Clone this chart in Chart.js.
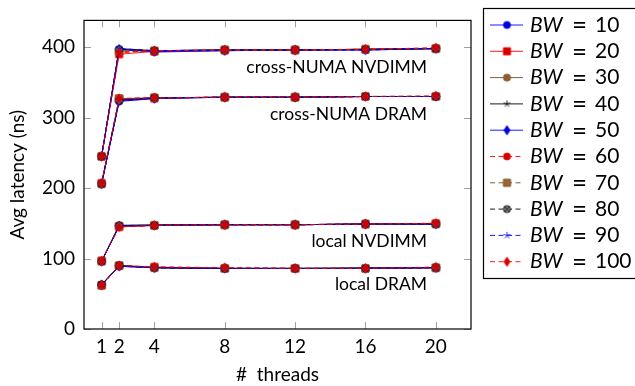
<!DOCTYPE html>
<html>
<head>
<meta charset="utf-8">
<script src="https://cdn.jsdelivr.net/npm/chart.js@4"></script>
<style>
  html, body { margin: 0; padding: 0; background: #fff; }
  #wrap { width: 635px; height: 386px; }
</style>
</head>
<body>
<div id="wrap"><canvas id="latChart" width="635" height="386"></canvas></div>
<script>
// ---------------------------------------------------------
// data
// ---------------------------------------------------------
const threads = [1, 2, 4, 8, 12, 16, 20];
const bwLabels = ['10', '20', '30', '40', '50', '60', '70', '80', '90', '100'];
const yTicks = [0, 100, 200, 300, 400];

// one row per BW series, one value per thread count
const localDram = [
    [63, 89, 87, 86, 86, 86, 87],
    [62, 90, 88, 86, 86, 86, 87],
    [62, 90, 87, 86, 86, 86, 87],
    [63, 90, 87, 86, 86, 87, 87],
    [63, 89, 87, 86, 86, 86, 87],
    [62, 90, 88, 87, 86, 86, 87],
    [62, 90, 87, 86, 86, 86, 87],
    [63, 90, 87, 86, 86, 86, 87],
    [62, 89, 87, 86, 86, 86, 87],
    [62, 90, 88, 87, 86, 86, 88]
];
const localNvdimm = [
    [96, 147, 147, 148, 148, 149, 149],
    [97, 145, 147, 148, 148, 149, 150],
    [96, 146, 147, 148, 148, 149, 149],
    [96, 147, 148, 148, 148, 149, 149],
    [96, 146, 147, 148, 148, 149, 149],
    [97, 145, 147, 148, 148, 149, 150],
    [96, 146, 147, 148, 148, 149, 149],
    [96, 147, 147, 148, 148, 149, 149],
    [96, 146, 147, 148, 148, 149, 149],
    [96, 145, 147, 148, 148, 149, 150]
];
const remoteDram = [
    [206, 323, 327, 329, 329, 330, 330],
    [207, 327, 328, 329, 329, 330, 330],
    [206, 326, 328, 329, 329, 330, 330],
    [206, 325, 328, 329, 329, 330, 330],
    [206, 324, 327, 329, 329, 330, 330],
    [207, 327, 328, 329, 329, 330, 330],
    [206, 327, 328, 329, 329, 330, 330],
    [206, 324, 328, 329, 329, 330, 330],
    [206, 325, 328, 329, 329, 330, 330],
    [207, 327, 328, 329, 329, 330, 331]
];
const remoteNvdimm = [
    [245, 397, 393, 395, 396, 396, 398],
    [245, 390, 394, 396, 396, 397, 398],
    [245, 396, 395, 396, 396, 397, 398],
    [245, 398, 395, 396, 396, 397, 398],
    [245, 397, 394, 395, 396, 396, 398],
    [246, 393, 395, 396, 396, 397, 399],
    [245, 394, 395, 396, 396, 397, 398],
    [245, 397, 395, 396, 396, 397, 398],
    [245, 398, 395, 396, 396, 396, 398],
    [245, 392, 395, 396, 396, 397, 399]
];
const groupNames = ['local DRAM', 'local NVDIMM', 'cross-NUMA DRAM', 'cross-NUMA NVDIMM'];
const groups = [localDram, localNvdimm, remoteDram, remoteNvdimm];

// ---------------------------------------------------------
// styles (pgfplots "color" cycle list)
// ---------------------------------------------------------
const FONT = 'Lato, "DejaVu Sans", sans-serif';
const STYLES = [
    { line: '#0000ff', fill: '#0000cc', mark: 'circle',  dash: [] },
    { line: '#ff0000', fill: '#cc0000', mark: 'square',  dash: [] },
    { line: '#734d26', fill: '#996633', mark: 'otimes',  dash: [] },
    { line: '#000000', fill: '#000000', mark: 'star',    dash: [] },
    { line: '#0000ff', fill: '#0000cc', mark: 'diamond', dash: [] },
    { line: '#ff0000', fill: '#cc0000', mark: 'circle',  dash: [5, 3.5] },
    { line: '#734d26', fill: '#996633', mark: 'square',  dash: [5, 3.5] },
    { line: '#000000', fill: '#808080', mark: 'otimes',  dash: [5, 3.5] },
    { line: '#0000ff', fill: '#0000ff', mark: 'star',    dash: [5, 3.5] },
    { line: '#ff0000', fill: '#cc0000', mark: 'diamond', dash: [5, 3.5] }
];

function makeMark(st) {
    const c = document.createElement('canvas');
    c.width = 13; c.height = 13;
    const g = c.getContext('2d');
    const cx = 6.5, cy = 6.5, r = 3.6;
    g.strokeStyle = st.line;
    g.fillStyle = st.fill;
    g.lineWidth = 0.8;
    g.beginPath();
    if (st.mark === 'circle') {
        g.arc(cx, cy, r, 0, Math.PI * 2);
        g.fill(); g.stroke();
    } else if (st.mark === 'square') {
        g.rect(cx - r, cy - r, 2 * r, 2 * r);
        g.fill(); g.stroke();
    } else if (st.mark === 'diamond') {
        g.moveTo(cx, cy - r * 1.3);
        g.lineTo(cx + r * 0.85, cy);
        g.lineTo(cx, cy + r * 1.3);
        g.lineTo(cx - r * 0.85, cy);
        g.closePath();
        g.fill(); g.stroke();
    } else if (st.mark === 'otimes') {
        g.arc(cx, cy, r, 0, Math.PI * 2);
        g.fill(); g.stroke();
        g.beginPath();
        const d = r * 0.7;
        g.moveTo(cx - d, cy - d); g.lineTo(cx + d, cy + d);
        g.moveTo(cx - d, cy + d); g.lineTo(cx + d, cy - d);
        g.stroke();
    } else if (st.mark === 'star') {
        for (let k = 0; k < 5; k++) {
            const a = -Math.PI / 2 + k * 2 * Math.PI / 5;
            g.moveTo(cx, cy);
            g.lineTo(cx + r * Math.cos(a), cy + r * Math.sin(a));
        }
        g.stroke();
    }
    return c;
}
const MARKS = STYLES.map(makeMark);

function seriesData(i) {
    const out = [];
    groups.forEach(grp => {
        threads.forEach((t, j) => out.push({ x: t, y: grp[i][j] }));
        out.push({ x: threads[threads.length - 1], y: null });   // break between curves
    });
    return out;
}

const datasets = bwLabels.map((bw, i) => ({
    label: 'BW = ' + bw,
    data: seriesData(i),
    borderColor: STYLES[i].line,
    borderWidth: 0.9,
    borderDash: STYLES[i].dash,
    pointStyle: MARKS[i],
    pointRadius: 4,
    spanGaps: false,
    order: bwLabels.length - 1 - i,
    tension: 0
}));

// ---------------------------------------------------------
// plugins: frame + inner ticks, group labels, legend box
// ---------------------------------------------------------
const framePlugin = {
    id: 'frame',
    beforeDatasetsDraw(chart) {
        const { ctx, chartArea: a, scales } = chart;
        ctx.save();
        ctx.strokeStyle = '#a0a0a0';
        ctx.lineWidth = 1;
        threads.forEach(t => {
            const x = Math.round(scales.x.getPixelForValue(t)) + 0.5;
            ctx.beginPath();
            ctx.moveTo(x, a.bottom); ctx.lineTo(x, a.bottom - 7);
            ctx.moveTo(x, a.top); ctx.lineTo(x, a.top + 7);
            ctx.stroke();
        });
        yTicks.forEach(v => {
            const y = Math.round(scales.y.getPixelForValue(v)) + 0.5;
            ctx.beginPath();
            ctx.moveTo(a.left, y); ctx.lineTo(a.left + 7, y);
            ctx.moveTo(a.right, y); ctx.lineTo(a.right - 7, y);
            ctx.stroke();
        });
        ctx.strokeStyle = '#000';
        ctx.lineWidth = 1.2;
        ctx.strokeRect(a.left, a.top, a.right - a.left, a.bottom - a.top);
        ctx.restore();
    },
    afterDatasetsDraw(chart) {
        const { ctx, scales } = chart;
        // label each curve group, right aligned a bit left of x = 20
        const labelY = [63, 124, 304, 372];
        ctx.save();
        ctx.fillStyle = '#000';
        ctx.font = '17.5px ' + FONT;
        ctx.textAlign = 'right';
        ctx.textBaseline = 'middle';
        groupNames.forEach((name, k) => {
            ctx.fillText(name, scales.x.getPixelForValue(19.5), scales.y.getPixelForValue(labelY[k]));
        });
        ctx.restore();
    }
};

const legendPlugin = {
    id: 'bwLegend',
    afterDraw(chart) {
        const ctx = chart.ctx;
        const boxL = 483, boxT = 8, rowH = 26.3;
        ctx.save();
        ctx.fillStyle = '#fff';
        ctx.fillRect(boxL, boxT, 200, 270);
        ctx.strokeStyle = '#000';
        ctx.lineWidth = 1.2;
        ctx.strokeRect(boxL + 0.5, boxT + 0.5, 200, 270);
        bwLabels.forEach((bw, i) => {
            const y = boxT + 17 + i * rowH;
            const st = STYLES[i];
            ctx.strokeStyle = st.line;
            ctx.lineWidth = 0.9;
            ctx.setLineDash(st.dash);
            ctx.beginPath();
            ctx.moveTo(490, y); ctx.lineTo(523, y);
            ctx.stroke();
            ctx.setLineDash([]);
            ctx.drawImage(MARKS[i], 507 - 6.5, y - 6.5);
            ctx.fillStyle = '#000';
            ctx.textBaseline = 'middle';
            ctx.textAlign = 'left';
            ctx.font = 'italic 21px ' + FONT;
            ctx.fillText('BW', 530, y);
            // math "=" is wider than the text one
            ctx.font = '26px ' + FONT;
            ctx.fillText('=', 572, y + 1);
            ctx.font = '21px ' + FONT;
            ctx.fillText(bw, 595, y);
        });
        ctx.restore();
    }
};

// ---------------------------------------------------------
// chart
// ---------------------------------------------------------
const tickFont = { family: FONT, size: 19 };

new Chart(document.getElementById('latChart'), {
    type: 'line',
    data: { datasets: datasets },
    options: {
        responsive: false,
        animation: false,
        devicePixelRatio: 1,
        layout: { padding: { top: 8, right: 164, left: 0, bottom: 0 } },
        plugins: { legend: { display: false }, tooltip: { enabled: false } },
        scales: {
            x: {
                type: 'linear',
                min: 0,
                max: 22,
                afterBuildTicks: s => { s.ticks = threads.map(v => ({ value: v })); },
                afterFit: s => { s.height = 57; },
                grid: { display: false, drawTicks: false },
                border: { display: false },
                ticks: { font: tickFont, color: '#000', padding: 6, maxRotation: 0, autoSkip: false },
                title: { display: true, text: '#  threads', font: tickFont, color: '#000', padding: { top: 2, bottom: 0 } }
            },
            y: {
                type: 'linear',
                min: 0,
                max: 438,
                afterBuildTicks: s => { s.ticks = yTicks.map(v => ({ value: v })); },
                afterFit: s => { s.width = 84; },
                grid: { display: false, drawTicks: false },
                border: { display: false },
                ticks: { font: tickFont, color: '#000', padding: 9 },
                title: { display: true, text: 'Avg latency (ns)', font: tickFont, color: '#000', padding: { top: 6, bottom: 4 } }
            }
        }
    },
    plugins: [framePlugin, legendPlugin]
});
</script>
</body>
</html>
